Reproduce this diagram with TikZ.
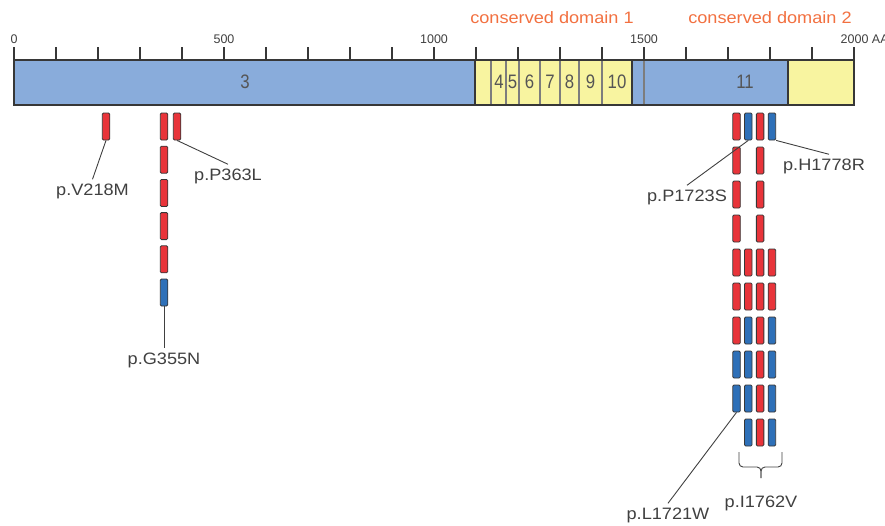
\documentclass[tikz,border=0pt]{standalone}
\usepackage{fontspec}
\setmainfont{Liberation Sans}
\newfontfamily\labelfont{Liberation Sans}[FakeStretch=1.1]
\newfontfamily\exonfont{Liberation Sans}[FakeStretch=0.86]
\definecolor{barblue}{RGB}{137,172,219}
\definecolor{baryellow}{RGB}{248,244,160}
\definecolor{mutred}{RGB}{232,52,58}
\definecolor{mutblue}{RGB}{46,112,184}
\definecolor{domainorange}{RGB}{242,112,64}
\definecolor{textgray}{RGB}{64,64,64}
\definecolor{exongray}{RGB}{85,85,85}
\definecolor{outline}{RGB}{55,55,55}
\definecolor{linegray}{RGB}{125,125,125}
\tikzset{
    mutbar/.style={draw=outline, line width=0.8pt, rounded corners=1.2pt, minimum width=7.5pt, minimum height=27pt, inner sep=0pt},
    mutlabel/.style={font=\labelfont\fontsize{16.5}{18}\selectfont, text=textgray, inner sep=4pt, anchor=base},
    ticklabel/.style={font=\fontsize{12.5}{14}\selectfont, text=textgray, anchor=base},
    exonlabel/.style={font=\exonfont\fontsize{19.5}{21}\selectfont, text=exongray},
    exonline/.style={draw=linegray, line width=2pt},
    pointer/.style={draw=textgray, line width=0.9pt}
}
\begin{document}
\begin{tikzpicture}[x=1pt, y=-1pt]
            \useasboundingbox (0,0) rectangle (885,525);
            % protein bar
            \fill[barblue] (14,60) rectangle (475,105);
            \fill[baryellow] (475,60) rectangle (632,105);
            \fill[barblue] (632,60) rectangle (788,105);
            \fill[baryellow] (788,60) rectangle (854,105);
            \foreach \x in {491,506,519,540,560,579,602,644} \draw[exonline] (\x,60) -- (\x,105);
            \draw[outline, line width=2.2pt] (475,60) -- (475,105) (632,60) -- (632,105) (788,60) -- (788,105);
            \draw[outline, line width=2.2pt] (14,60) rectangle (854,105);
            \foreach \k in {0,...,20} \draw[outline, line width=2.2pt] ({14+42*\k},47) -- ({14+42*\k},60);
            \node[ticklabel] (t0) at (14,43) {0};
            \node[ticklabel] (t500) at (224,43) {500};
            \node[ticklabel] (t1000) at (434,43) {1000};
            \node[ticklabel] (t1500) at (644,43) {1500};
            \node[ticklabel, anchor=base west, inner sep=0pt] (t2000) at (840.5,43) {2000 AA};
            \node[mutlabel, text=domainorange] (cd1) at (552,23) {conserved domain 1};
            \node[mutlabel, text=domainorange] (cd2) at (770,23) {conserved domain 2};
            % exon numbers
            \node[exonlabel] (e3) at (245,82) {3};
            \node[exonlabel] (e4) at (499,82) {4};
            \node[exonlabel] (e5) at (512.5,82) {5};
            \node[exonlabel] (e6) at (529.5,82) {6};
            \node[exonlabel] (e7) at (550,82) {7};
            \node[exonlabel] (e8) at (569.5,82) {8};
            \node[exonlabel] (e9) at (590.5,82) {9};
            \node[exonlabel] (e10) at (617,82) {10};
            \node[exonlabel] (e11) at (745,82) {11};
            % mutations, exon 3
            \node[mutbar, fill=mutred] (v0) at (106,126.5) {};
            \foreach \r/\c in {0/mutred,1/mutred,2/mutred,3/mutred,4/mutred,5/mutblue}
                \node[mutbar, fill=\c] (g\r) at (164,{126.5+33.2*\r}) {};
            \node[mutbar, fill=mutred] (p0) at (177,126.5) {};
            % mutations, exon 11
            \foreach \r/\c in {0/mutred,1/mutred,2/mutred,3/mutred,4/mutred,5/mutred,6/mutred,7/mutblue,8/mutblue}
                \node[mutbar, fill=\c] (a\r) at (736.5,{126.5+34*\r}) {};
            \foreach \r/\c in {0/mutblue,4/mutred,5/mutred,6/mutblue,7/mutblue,8/mutblue,9/mutblue}
                \node[mutbar, fill=\c] (b\r) at (748.3,{126.5+34*\r}) {};
            \foreach \r in {0,...,9}
                \node[mutbar, fill=mutred] (c\r) at (760.1,{126.5+34*\r}) {};
            \foreach \r/\c in {0/mutblue,4/mutred,5/mutred,6/mutblue,7/mutblue,8/mutblue,9/mutblue}
                \node[mutbar, fill=\c] (d\r) at (771.9,{126.5+34*\r}) {};
            % labels
            \node[mutlabel] (lv218m) at (92.5,195) {p.V218M};
            \node[mutlabel] (lp363l) at (228,180) {p.P363L};
            \node[mutlabel] (lg355n) at (164,364) {p.G355N};
            \node[mutlabel] (lp1723s) at (687,201) {p.P1723S};
            \node[mutlabel] (lh1778r) at (824,170) {p.H1778R};
            \node[mutlabel] (ll1721w) at (668,519) {p.L1721W};
            \node[mutlabel] (li1762v) at (761,507) {p.I1762V};
            \draw[pointer] (v0.south) -- (lv218m.north);
            \draw[pointer] (p0.south) -- (lp363l.north);
            \draw[pointer] (g5.south) -- (lg355n.north);
            \draw[pointer] (b0.south) -- (lp1723s.north);
            \draw[pointer] (d0.south east) -- ([xshift=5pt]lh1778r.north);
            \draw[pointer] (a8.south) -- (ll1721w.north);
            \coordinate (bracetip) at (761,478);
            \draw[pointer, rounded corners=4pt] (739,452) -- (739,467) -- (761,467) -- (bracetip);
            \draw[pointer, rounded corners=4pt] (782,452) -- (782,467) -- (761,467) -- (bracetip);
\end{tikzpicture}
\end{document}
